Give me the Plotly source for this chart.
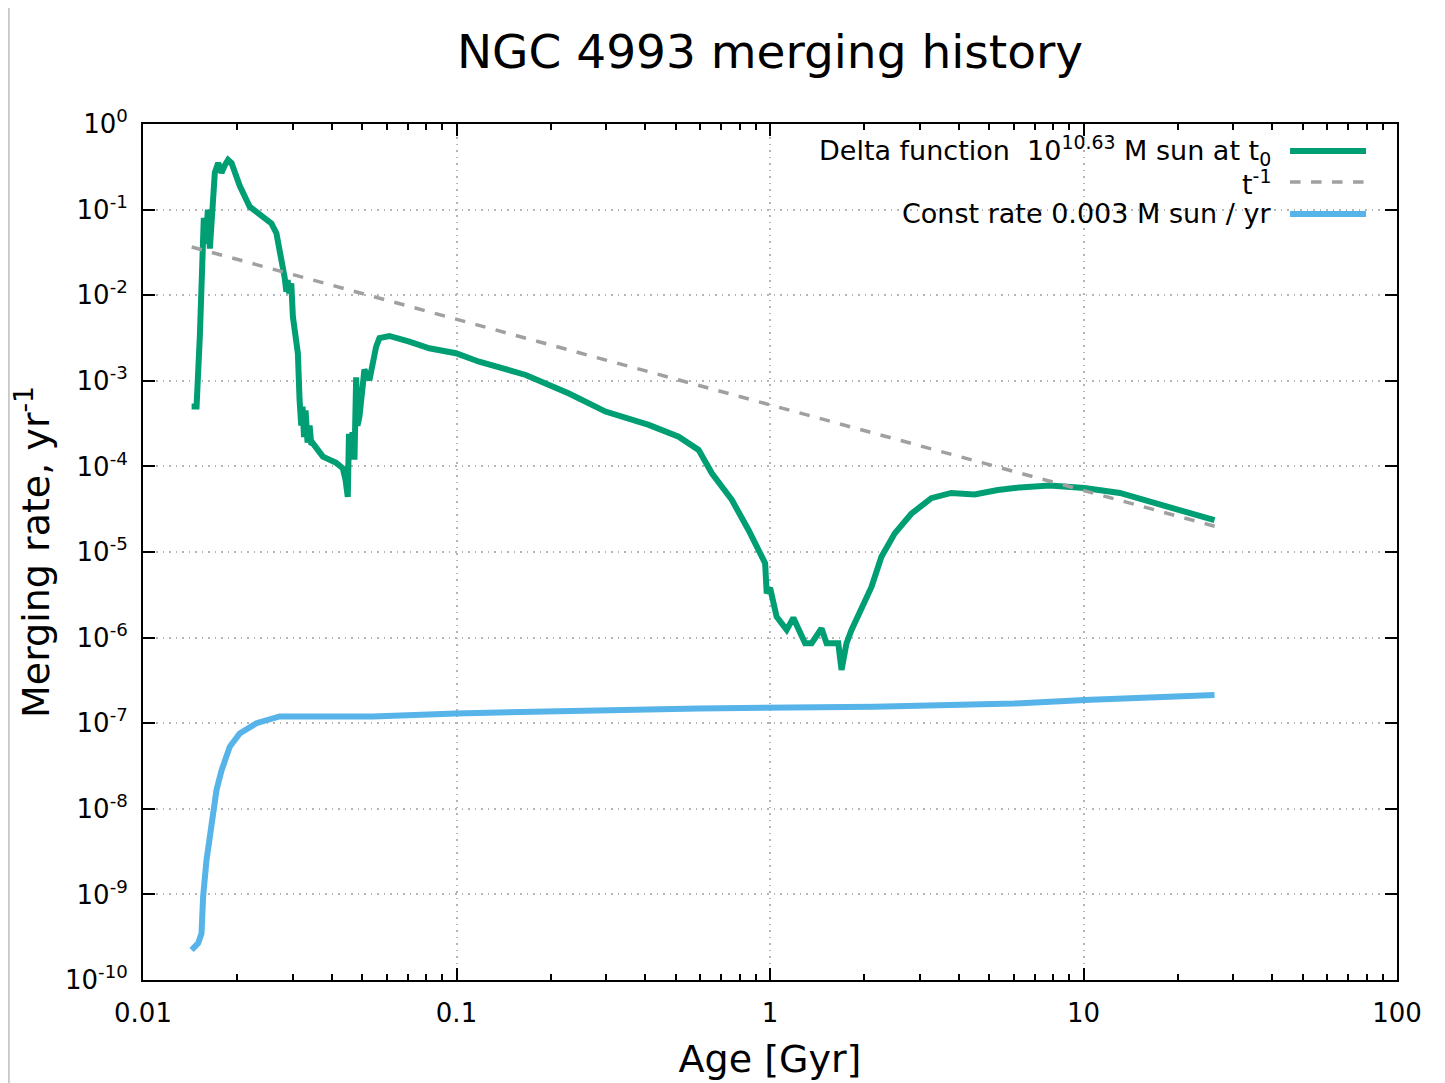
import plotly.graph_objects as go

# ---- data ----
delta_age = [0.01429, 0.01482, 0.01518, 0.01541, 0.01563, 0.01586, 0.01610, 0.01634, 0.01658, 0.01683,
             0.01695, 0.01737, 0.01758, 0.01780, 0.01824, 0.01868, 0.01916, 0.02035, 0.02190, 0.02301,
             0.02568, 0.02664, 0.02796, 0.02831, 0.02866, 0.02893, 0.02925, 0.02972, 0.03007, 0.03119,
             0.03158, 0.03197, 0.03228, 0.03264, 0.03300, 0.03349, 0.03399, 0.03442, 0.03482, 0.03748,
             0.04133, 0.04338, 0.04425, 0.04500, 0.04539, 0.04590, 0.04657, 0.04726, 0.04786, 0.04831,
             0.04902, 0.05085, 0.05275, 0.05541, 0.05677, 0.06109, 0.07071, 0.08188, 0.09956, 0.1181,
             0.1663, 0.2284, 0.2987, 0.4104, 0.5112, 0.5918, 0.6526, 0.7554, 0.8538, 0.9648,
             0.9761, 1.0007, 1.050, 1.130, 1.187, 1.294, 1.358, 1.460, 1.515, 1.651,
             1.691, 1.754, 1.820, 1.958, 2.107, 2.267, 2.500, 2.824, 3.270, 3.785,
             4.493, 5.330, 6.027, 7.796, 10.08, 13.06, 16.90, 26.18]
delta_rate = [5e-4, 5e-4, 3.3e-3, 0.04, 0.08, 0.04, 0.1, 0.035, 0.1, 0.2,
              0.27, 0.35, 0.3, 0.27, 0.33, 0.38, 0.35, 0.19, 0.108, 0.095,
              0.069, 0.053, 0.0216, 0.016, 0.011, 0.015, 0.0105, 0.0137, 0.0056, 0.0021,
              6e-4, 3e-4, 5e-4, 2.2e-4, 4.5e-4, 1.9e-4, 3e-4, 1.8e-4, 1.86e-4, 1.3e-4,
              1.1e-4, 9.5e-5, 7e-5, 4.4e-5, 2.4e-4, 1.2e-4, 2.5e-4, 1.2e-4, 1.1e-3, 3e-4,
              3.8e-4, 1.35e-3, 1.02e-3, 2.5e-3, 3.15e-3, 3.34e-3, 2.86e-3, 2.4e-3, 2.1e-3, 1.67e-3,
              1.17e-3, 7.1e-4, 4.37e-4, 3.05e-4, 2.22e-4, 1.56e-4, 8.3e-5, 4.07e-5, 1.81e-5, 7.4e-6,
              3.3e-6, 3.8e-6, 1.75e-6, 1.23e-6, 1.7e-6, 8.6e-7, 8.6e-7, 1.28e-6, 8.6e-7, 8.6e-7,
              4.2e-7, 8.6e-7, 1.23e-6, 2.3e-6, 3.9e-6, 8.8e-6, 1.65e-5, 2.8e-5, 4.25e-5, 4.9e-5,
              4.7e-5, 5.3e-5, 5.6e-5, 6.0e-5, 5.6e-5, 4.9e-5, 3.7e-5, 2.35e-5]

tinv_age = [0.0143, 26.2]
tinv_rate = [0.0366, 2.0e-5]

const_age = [0.01429, 0.01500, 0.01537, 0.01555, 0.01594, 0.01654, 0.01716, 0.01780, 0.01891,
             0.02035, 0.02301, 0.02727, 0.05406, 0.0996, 0.1833, 0.5929, 2.149, 6.027, 10.08, 26.18]
const_rate = [2.24e-10, 2.7e-10, 3.5e-10, 9.4e-10, 2.5e-9, 7.4e-9, 1.66e-8, 2.8e-8, 5.3e-8,
              7.6e-8, 1.0e-7, 1.2e-7, 1.2e-7, 1.30e-7, 1.36e-7, 1.49e-7, 1.56e-7, 1.70e-7, 1.87e-7, 2.14e-7]

x_tickvals = [0.01, 0.1, 1, 10, 100]
x_ticktext = ["0.01", "0.1", "1", "10", "100"]
y_exponents = [0, -1, -2, -3, -4, -5, -6, -7, -8, -9, -10]

legend_labels = ["Delta function  10<sup>10.63</sup> M sun at t<sub>0</sub>",
                 "t<sup>-1</sup>",
                 "Const rate 0.003 M sun / yr"]

GREEN = "#009E73"
BLUE = "#56B4E9"
GRAY = "#A0A0A0"
FONT = "DejaVu Sans"

fig = go.Figure()
fig.add_trace(go.Scatter(x=delta_age, y=delta_rate, mode="lines", name=legend_labels[0],
                         line=dict(color=GREEN, width=6), showlegend=False))
fig.add_trace(go.Scatter(x=tinv_age, y=tinv_rate, mode="lines", name=legend_labels[1],
                         line=dict(color=GRAY, width=3.5, dash="dash"), showlegend=False))
fig.add_trace(go.Scatter(x=const_age, y=const_rate, mode="lines", name=legend_labels[2],
                         line=dict(color=BLUE, width=6), showlegend=False))

minor_x = [m * 10 ** d for d in range(-2, 2) for m in range(2, 10)]

axis_common = dict(type="log", showline=True, linecolor="black", linewidth=2, mirror="allticks",
                   ticks="inside", ticklen=12, tickwidth=2, tickcolor="black",
                   showgrid=True, gridcolor="#B4B4B4", gridwidth=1.5, griddash="1.5px,5px",
                   zeroline=False, tickfont=dict(family=FONT, size=26, color="black"))

fig.update_xaxes(**axis_common, range=[-2, 2], tickvals=x_tickvals, ticktext=x_ticktext,
                 ticklabelstandoff=9,
                 minor=dict(tickvals=minor_x, ticks="inside", ticklen=6, tickwidth=1.5,
                            tickcolor="black", showgrid=False),
                 title=dict(text="Age [Gyr]", font=dict(family=FONT, size=38, color="black"), standoff=18))
fig.update_yaxes(**axis_common, range=[-10, 0], tickvals=[10.0 ** e for e in y_exponents],
                 ticktext=["10<sup>%d</sup>" % e for e in y_exponents], ticklabelstandoff=8,
                 title=dict(text="Merging rate, yr<sup>-1</sup>",
                            font=dict(family=FONT, size=38, color="black"), standoff=6))

# legend (gnuplot style: text right aligned, sample on the right)
shapes = [dict(type="rect", xref="paper", yref="paper", x0=0.4928, x1=0.9984, y0=0.8738, y1=0.9975,
               fillcolor="white", line=dict(width=0), layer="between"),
          dict(type="line", xref="paper", yref="paper", x0=0.9147, x1=0.9753, y0=0.9685, y1=0.9685,
               line=dict(color=GREEN, width=6)),
          dict(type="line", xref="paper", yref="paper", x0=0.9147, x1=0.9753, y0=0.9322, y1=0.9322,
               line=dict(color=GRAY, width=3.5, dash="dash")),
          dict(type="line", xref="paper", yref="paper", x0=0.9147, x1=0.9753, y0=0.8949, y1=0.8949,
               line=dict(color=BLUE, width=6)),
          dict(type="line", xref="paper", yref="paper", x0=-0.107, x1=-0.107, y0=-0.14, y1=1.16,
               line=dict(color="#C8C8C8", width=2))]
annotations = []
for lab, yy in zip(legend_labels, [0.9695, 0.9322, 0.8949]):
    annotations.append(dict(text=lab, xref="paper", yref="paper", x=0.9011, y=yy,
                            xanchor="right", yanchor="middle", showarrow=False,
                            font=dict(family=FONT, size=27, color="black")))

fig.update_layout(
    width=1445, height=1083,
    margin=dict(l=135, r=56, t=116, b=111),
    paper_bgcolor="white", plot_bgcolor="white",
    title=dict(text="NGC 4993 merging history", x=0.5, xref="paper", xanchor="center",
               y=1 - 44 / 1083, yanchor="middle", font=dict(family=FONT, size=47, color="black")),
    shapes=shapes, annotations=annotations, showlegend=False,
)

fig.write_html("out.html")
